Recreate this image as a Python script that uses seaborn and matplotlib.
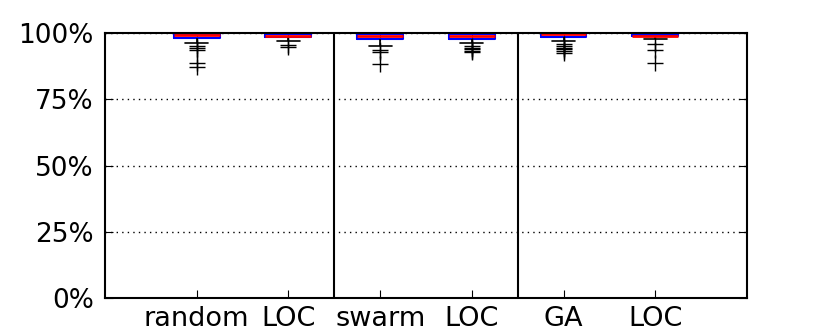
import pandas as pd
import seaborn as sns
from matplotlib import pyplot as plt
from matplotlib.ticker import FuncFormatter

# coverage (%) per run, read approximately off the reference boxes
groups = ["random", "LOC_r", "swarm", "LOC_s", "GA", "LOC_g"]
tick_labels = ["random", "LOC", "swarm", "LOC", "GA", "LOC"]

random_vals = [87.1, 88.7, 93.7, 94.3, 95.0, 96.2, 98.0, 98.3, 98.5, 98.7, 98.9,
               99.0, 99.1, 99.3, 99.4, 99.5, 99.6, 99.7, 99.8, 99.9, 99.9,
               100.0, 100.0, 100.0, 100.0]
loc_r_vals = [94.8, 95.6, 96.9, 97.8, 98.3, 98.6, 98.7, 98.8, 98.8, 98.9, 98.9,
              99.1, 99.3, 99.5, 99.6, 99.8, 99.9, 99.9, 100.0, 100.0, 100.0]
swarm_vals = [88.3, 92.8, 93.6, 95.0, 96.8, 97.6, 97.9, 98.2, 98.5, 98.7, 99.0,
              99.2, 99.4, 99.5, 99.7, 99.8, 99.9, 99.9, 100.0, 100.0, 100.0]
loc_s_vals = [92.8, 93.2, 93.8, 94.4, 95.0, 96.2, 97.9, 98.1, 98.3, 98.5, 98.7,
              98.8, 98.9, 99.0, 99.1, 99.2, 99.3, 99.4, 99.5, 99.6, 99.7, 99.8,
              99.9, 100.0, 100.0]
ga_vals = [92.6, 93.3, 93.9, 94.5, 95.2, 95.8, 97.1, 98.5, 98.7, 98.9, 99.0,
           99.1, 99.3, 99.4, 99.5, 99.6, 99.6, 99.7, 99.7, 99.8, 99.8, 99.9,
           100.0, 100.0, 100.0, 100.0, 100.0, 100.0, 100.0]
loc_g_vals = [88.5, 93.7, 95.8, 97.9, 98.5, 98.8, 98.8, 98.9, 98.9, 98.9, 98.9,
              99.1, 99.3, 99.4, 99.6, 99.8, 99.9, 100.0, 100.0, 100.0, 100.0]

series = [random_vals, loc_r_vals, swarm_vals, loc_s_vals, ga_vals, loc_g_vals]
df = pd.DataFrame(
    [(g, v) for g, vals in zip(groups, series) for v in vals],
    columns=["group", "coverage"],
)

sns.set_style("white")
plt.rcParams["font.family"] = ["DejaVu Sans"]

fig, ax = plt.subplots(figsize=(8.3, 3.32), dpi=100)
fig.subplots_adjust(left=0.1265, right=0.9, bottom=0.1024, top=0.9006)

sns.boxplot(
    df, x="group", y="coverage", order=groups, ax=ax, width=0.5,
    fill=False, linewidth=1.5,
    boxprops=dict(color="blue"),
    medianprops=dict(color="red", linewidth=2),
    whiskerprops=dict(color="black", linewidth=1.2),
    capprops=dict(color="black", linewidth=1.2),
    flierprops=dict(marker="+", markeredgecolor="black", markersize=11,
                    markeredgewidth=1),
)

# separators between the three method pairs
for x in (1.5, 3.5):
    ax.axvline(x, color="black", linewidth=1.5)

ax.set(xlim=(-1, 6), ylim=(0, 100), xlabel="", ylabel="")
ax.set_yticks([0, 25, 50, 75, 100])
ax.yaxis.set_major_formatter(FuncFormatter(lambda v, _: f"{v:.0f}%"))
ax.set_xticks(range(len(groups)))
ax.set_xticklabels(tick_labels)
ax.yaxis.grid(True, linestyle=(0, (1, 3)), color="black", linewidth=1)
ax.set_axisbelow(True)
ax.tick_params(axis="both", direction="in", length=5.5, colors="black",
               bottom=True, left=True, top=True, right=True)
ax.tick_params(axis="x", labelsize=19.5, pad=6)
ax.tick_params(axis="y", labelsize=19, pad=8)
for s in ax.spines.values():
    s.set_color("black")
    s.set_linewidth(1.5)

fig.savefig("out.png", dpi=100)
